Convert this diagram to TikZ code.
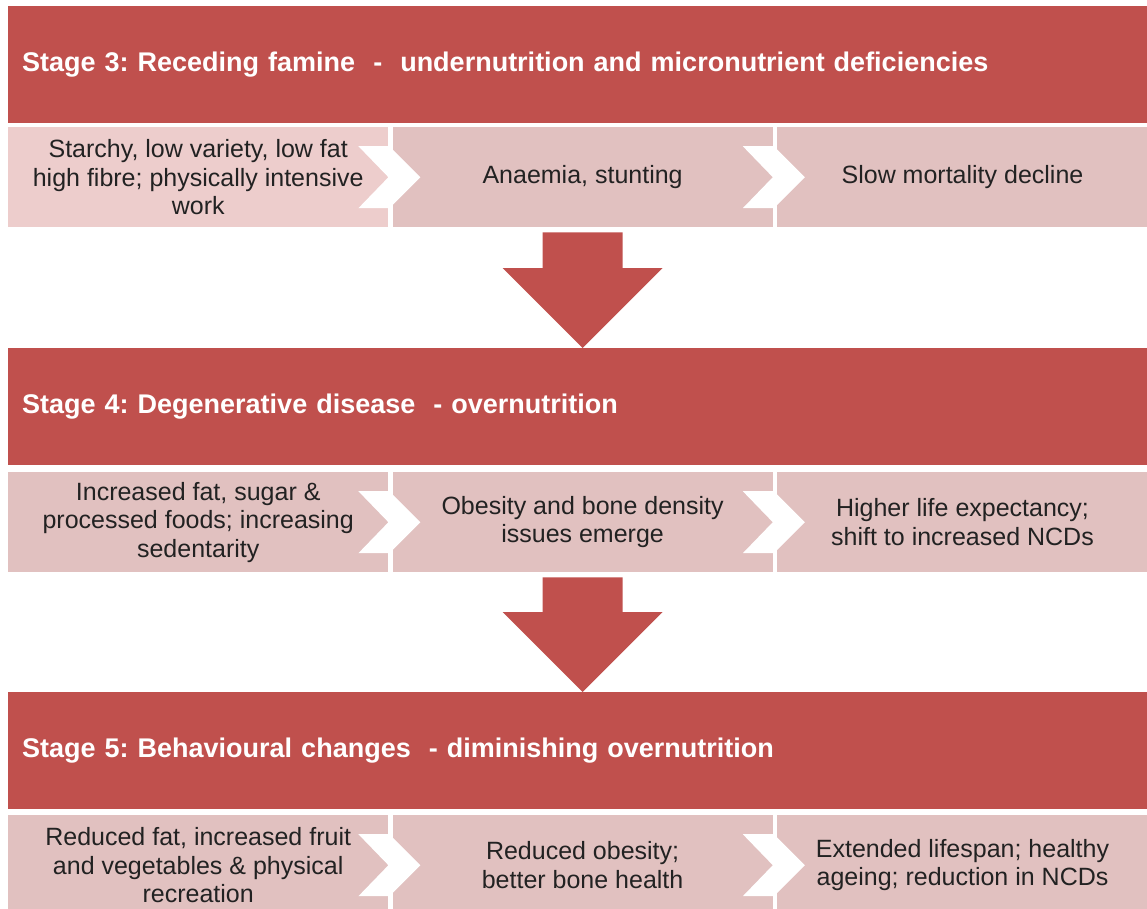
\documentclass[tikz,border=0pt]{standalone}
\usepackage{fontspec}
\setmainfont{Liberation Sans}
\usetikzlibrary{positioning,calc}
\frenchspacing
\definecolor{stagered}{HTML}{C0504D}
\definecolor{boxpink}{HTML}{E1C1C0}
\definecolor{boxlight}{HTML}{EDCDCC}
\definecolor{textgrey}{HTML}{222222}

\tikzset{
	stage/.style={fill=stagered, text=white, anchor=north west, font=\bfseries\fontsize{27}{32}\selectfont,
		minimum width=1139pt, minimum height=117pt, inner xsep=14pt, text width=1111pt, align=left},
	item/.style={fill=boxpink, text=textgrey, anchor=north west, font=\fontsize{25}{28.5}\selectfont,
		minimum width=380pt, minimum height=100pt, inner sep=0pt, align=center}
}
% white chevron between two boxes
\newcommand{\chevron}[2]{\fill[white] ($(#1.east)!0.5!(#2.west)$) ++(-32,-31) -- ++(31,0) -- ++(31,31)
	-- ++(-31,31) -- ++(-31,0) -- ++(30,-31) -- cycle;}
% big arrow from a row down to the next stage
\newcommand{\stagearrow}[2]{\fill[stagered] ($(#1.south)+(-40,5)$) -- ($(#1.south)+(40,5)$)
	|- ($(#1.south |- #2.north)+(80,-80)$) -- (#1.south |- #2.north)
	-- ($(#1.south |- #2.north)+(-80,-80)$) -| ($(#1.south)+(-40,5)$) -- cycle;}

\begin{document}
\begin{tikzpicture}[x=1pt, y=-1pt]
\useasboundingbox (0,0) rectangle (1147,909);

\node[stage] (s3) at (8,6) {Stage 3: Receding famine \ - \ undernutrition and micronutrient deficiencies};
\node[item, fill=boxlight] (s3a) at (8,127) {Starchy, low variety, low fat\\high fibre; physically intensive\\work};
\node[item, right=4pt of s3a] (s3b) {Anaemia, stunting};
\node[item, right=4pt of s3b, minimum width=371pt] (s3c) {Slow mortality decline};

\node[stage] (s4) at (8,348) {Stage 4: Degenerative disease \ - overnutrition};
\node[item] (s4a) at (8,472) {Increased fat, sugar \&\\processed foods; increasing\\sedentarity};
\node[item, right=4pt of s4a] (s4b) {Obesity and bone density\\issues emerge};
\node[item, right=4pt of s4b, minimum width=371pt] (s4c) {Higher life expectancy;\\shift to increased NCDs};

\node[stage] (s5) at (8,692) {Stage 5: Behavioural changes \ - diminishing overnutrition};
\node[item] (s5a) at (8,815) {Reduced fat, increased fruit\\and vegetables \& physical\\recreation};
\node[item, right=4pt of s5a] (s5b) {Reduced obesity;\\better bone health};
\node[item, right=4pt of s5b, minimum width=371pt] (s5c) {Extended lifespan; healthy\\ageing; reduction in NCDs};

\foreach \r in {3,4,5}{
	\chevron{s\r a}{s\r b}
	\chevron{s\r b}{s\r c}
}
\stagearrow{s3b}{s4}
\stagearrow{s4b}{s5}
\end{tikzpicture}
\end{document}
